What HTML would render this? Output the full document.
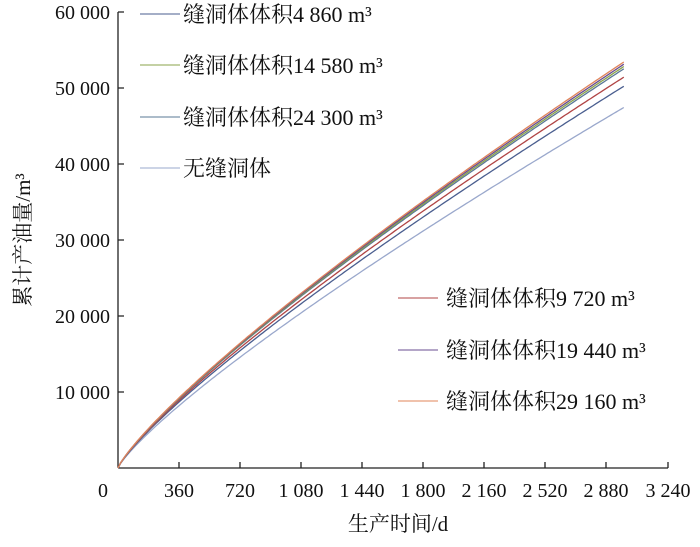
<!DOCTYPE html>
<html><head><meta charset="utf-8"><style>
body{margin:0;background:#fff;}
svg text{font-family:"Liberation Serif","Noto Serif CJK SC",serif;fill:#111;}
</style></head><body>
<svg id="s" width="700" height="542" viewBox="0 0 700 542" xmlns="http://www.w3.org/2000/svg">
<g stroke="#222" stroke-width="1.3" fill="none">
<line x1="118" y1="12" x2="118" y2="468"/>
<line x1="118" y1="468" x2="668" y2="468"/>
<path d="M118 12h6M118 88h6M118 164h6M118 240h6M118 316h6M118 392h6"/>
<path d="M179 468v-6M240 468v-6M301 468v-6M362 468v-6M423 468v-6M484 468v-6M545 468v-6M606 468v-6M668 468v-6"/>
</g>
<g font-size="20" text-anchor="end">
<text x="110" y="19">60 000</text><text x="110" y="95">50 000</text><text x="110" y="171">40 000</text>
<text x="110" y="247">30 000</text><text x="110" y="323">20 000</text><text x="110" y="399">10 000</text>
</g>
<g font-size="20" text-anchor="middle">
<text x="103" y="497">0</text><text x="179" y="497">360</text><text x="240" y="497">720</text>
<text x="301" y="497">1 080</text><text x="362" y="497">1 440</text><text x="423" y="497">1 800</text>
<text x="484" y="497">2 160</text><text x="545" y="497">2 520</text><text x="606" y="497">2 880</text><text x="668" y="497">3 240</text>
<text x="398" y="531" font-size="21">生产时间/d</text>
</g>
<text transform="translate(30 240) rotate(-90)" font-size="21" text-anchor="middle">累计产油量/m³</text>
<g id="lines" fill="none" stroke-width="1.3"></g>
<g font-size="22">
<line x1="140" y1="14" x2="180" y2="14" stroke="#4a5e8f"/><text x="183" y="22">缝洞体体积4 860 m³</text>
<line x1="140" y1="65" x2="180" y2="65" stroke="#8aa34a"/><text x="183" y="73">缝洞体体积14 580 m³</text>
<line x1="140" y1="117" x2="180" y2="117" stroke="#5a7896"/><text x="183" y="125">缝洞体体积24 300 m³</text>
<line x1="140" y1="168" x2="180" y2="168" stroke="#9aa8cc"/><text x="183" y="176">无缝洞体</text>
<line x1="398" y1="298" x2="438" y2="298" stroke="#b04444"/><text x="446" y="306">缝洞体体积9 720 m³</text>
<line x1="398" y1="350" x2="438" y2="350" stroke="#6a4c90"/><text x="446" y="358">缝洞体体积19 440 m³</text>
<line x1="398" y1="401" x2="438" y2="401" stroke="#e0845a"/><text x="446" y="409">缝洞体体积29 160 m³</text>
</g>
</svg>
<script>
var g=document.getElementById('lines');
var series=[[47500,'#9aa8cc'],[50300,'#4a5e8f'],[51500,'#b04444'],[52600,'#5a7896'],[52900,'#8aa34a'],[53200,'#6a4c90'],[53500,'#e0845a']];
series.forEach(function(s){
 var d='';var T=2990;
 for(var t=0;t<=T;t+=15){var v=s[0]*Math.pow(t/T,0.83);var x=118+t*61/360;var y=468-v*76/10000;d+=(t?'L':'M')+x.toFixed(1)+' '+y.toFixed(1);}
 var p=document.createElementNS('http://www.w3.org/2000/svg','path');p.setAttribute('d',d);p.setAttribute('stroke',s[1]);g.appendChild(p);
});
</script>
</body></html>
